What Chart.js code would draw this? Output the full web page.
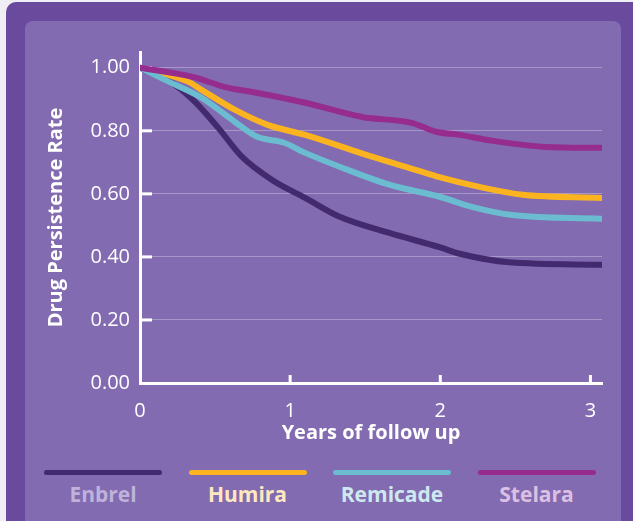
<!DOCTYPE html>
<html>
<head>
<meta charset="utf-8">
<script src="https://cdn.jsdelivr.net/npm/chart.js@4.4.1/dist/chart.umd.min.js"></script>
<style>
    body { margin: 0; background: #f0eef5; width: 633px; height: 521px; overflow: hidden; font-family: "Open Sans", sans-serif; }
    .outer { position: absolute; left: 6px; top: 2px; width: 640px; height: 540px; background: #6a4a9c; border-radius: 10px; }
    .panel { position: absolute; left: 25px; top: 21px; width: 596px; height: 520px; background: #826bb0; border-radius: 8px; }
    .chartBox { position: absolute; left: 25px; top: 21px; width: 596px; height: 430px; }
    .legend { position: absolute; left: 44px; top: 470px; display: flex; gap: 26.5px; }
    .legendItem { width: 118px; text-align: center; }
    .legendLine { height: 5px; border-radius: 3px; }
    .legendText { margin-top: 5px; font-weight: 700; font-size: 21px; line-height: 28px; }
</style>
</head>
<body>
<div class="outer"></div>
<div class="panel"></div>
<div class="chartBox"><canvas id="persistChart"></canvas></div>
<div class="legend" id="legend"></div>
<script>
const drugNames = ['Enbrel', 'Humira', 'Remicade', 'Stelara'];
const lineColors = ['#432a6e', '#fbb41f', '#6bbcd1', '#952c8e'];
const labelColors = ['#bfb2da', '#fde8c0', '#cde9ef', '#dcc0e4'];

// [years, rate]
const enbrel = [[0, 1.0], [0.25, 0.94], [0.37, 0.89], [0.52, 0.81], [0.68, 0.717], [0.88, 0.644], [1.1, 0.587], [1.33, 0.527], [1.66, 0.476], [2.0, 0.43], [2.13, 0.41], [2.46, 0.383], [3.07, 0.375]];
const humira = [[0, 1.0], [0.32, 0.956], [0.41, 0.93], [0.63, 0.867], [0.85, 0.819], [1.1, 0.787], [1.55, 0.717], [1.88, 0.67], [2.0, 0.652], [2.26, 0.622], [2.55, 0.597], [3.07, 0.587]];
const remicade = [[0, 1.0], [0.19, 0.956], [0.41, 0.905], [0.63, 0.829], [0.78, 0.781], [0.96, 0.762], [1.1, 0.73], [1.33, 0.686], [1.66, 0.629], [2.0, 0.59], [2.21, 0.559], [2.48, 0.533], [3.07, 0.521]];
const stelara = [[0, 1.0], [0.35, 0.971], [0.58, 0.937], [0.74, 0.924], [1.1, 0.889], [1.48, 0.844], [1.81, 0.825], [1.97, 0.797], [2.13, 0.787], [2.35, 0.768], [2.7, 0.749], [3.07, 0.746]];

const xTicks = [0, 1, 2, 3];
const yTicks = [0, 0.2, 0.4, 0.6, 0.8, 1.0];

const allSeries = [enbrel, humira, remicade, stelara];

// little white stubs drawn inside the axes
const innerTicks = {
    id: 'innerTicks',
    beforeDatasetsDraw(chart) {
        const ctx = chart.ctx;
        const x = chart.scales.x;
        const y = chart.scales.y;
        ctx.save();
        ctx.strokeStyle = '#ffffff';
        ctx.lineWidth = 3;
        yTicks.forEach(v => {
            if (v === 0) return;
            const py = y.getPixelForValue(v);
            ctx.beginPath();
            ctx.moveTo(x.left, py);
            ctx.lineTo(x.left + 12, py);
            ctx.stroke();
        });
        xTicks.forEach(v => {
            if (v === 0) return;
            const px = x.getPixelForValue(v);
            ctx.beginPath();
            ctx.moveTo(px, y.bottom);
            ctx.lineTo(px, y.bottom - 8);
            ctx.stroke();
        });
        ctx.restore();
    }
};

const ctx = document.getElementById('persistChart').getContext('2d');
new Chart(ctx, {
    type: 'line',
    data: {
        datasets: allSeries.map((series, i) => ({
            label: drugNames[i],
            data: series.map(p => ({ x: p[0], y: p[1] })),
            borderColor: lineColors[i],
            borderWidth: 6,
            borderCapStyle: 'round',
            borderJoinStyle: 'round',
            cubicInterpolationMode: 'monotone',
            pointRadius: 0,
            fill: false,
            order: allSeries.length - i
        }))
    },
    options: {
        responsive: true,
        maintainAspectRatio: false,
        animation: false,
        layout: { padding: { top: 31, right: 19, left: 0, bottom: 0 } },
        plugins: {
            legend: { display: false },
            tooltip: { enabled: false }
        },
        scales: {
            x: {
                type: 'linear',
                min: 0,
                max: 3.077,
                afterBuildTicks: s => { s.ticks = xTicks.map(v => ({ value: v })); },
                afterFit: s => { s.height = 68; },
                grid: { display: false, drawTicks: false },
                border: { color: '#ffffff', width: 3 },
                ticks: {
                    color: '#ffffff',
                    padding: 16,
                    font: { family: 'Open Sans', size: 20 }
                },
                title: {
                    display: true,
                    text: 'Years of follow up',
                    color: '#ffffff',
                    font: { family: 'Open Sans', size: 20, weight: 'bold' },
                    padding: { top: 0, bottom: 6 }
                }
            },
            y: {
                min: 0,
                max: 1.05,
                afterBuildTicks: s => { s.ticks = yTicks.map(v => ({ value: v })); },
                afterFit: s => { s.width = 115; },
                grid: {
                    drawTicks: false,
                    color: c => c.tick && c.tick.value === 0 ? 'rgba(0,0,0,0)' : 'rgba(255,255,255,0.3)',
                    lineWidth: 1
                },
                border: { color: '#ffffff', width: 3 },
                ticks: {
                    color: '#ffffff',
                    padding: 10,
                    font: { family: 'Open Sans', size: 20 },
                    callback: v => v.toFixed(2)
                },
                title: {
                    display: true,
                    text: 'Drug Persistence Rate',
                    color: '#ffffff',
                    font: { family: 'Open Sans', size: 20, weight: 'bold' },
                    padding: { top: 19, bottom: 0 }
                }
            }
        }
    },
    plugins: [innerTicks]
});

const legendBox = document.getElementById('legend');
drugNames.forEach((name, i) => {
    const item = document.createElement('div');
    item.className = 'legendItem';
    item.innerHTML = `<div class="legendLine" style="background:${lineColors[i]}"></div>
        <div class="legendText" style="color:${labelColors[i]}">${name}</div>`;
    legendBox.appendChild(item);
});
</script>
</body>
</html>
